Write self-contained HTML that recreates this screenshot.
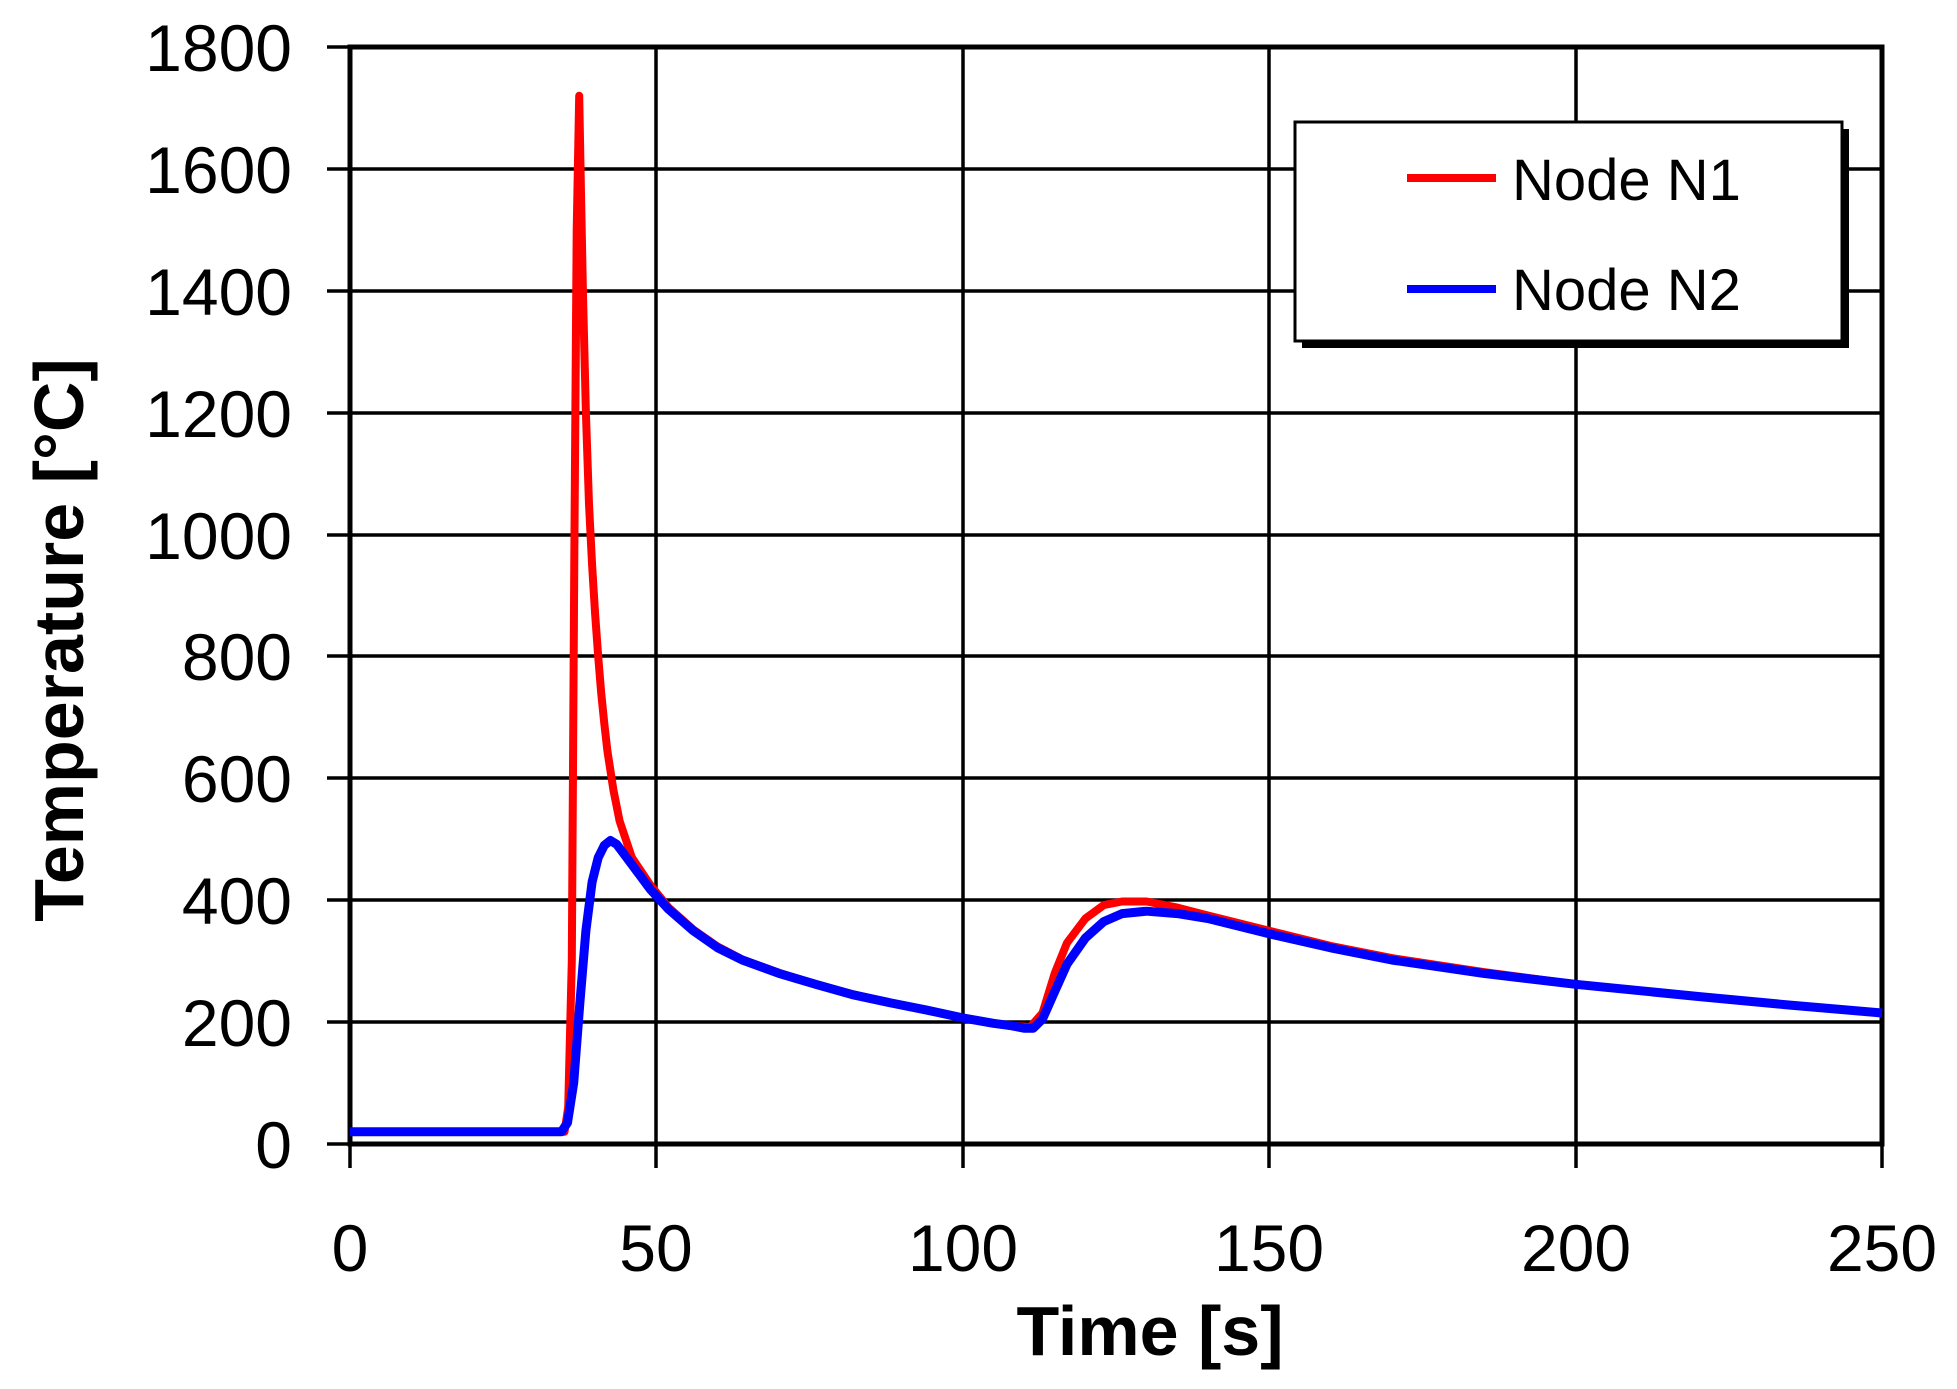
<!DOCTYPE html>
<html><head><meta charset="utf-8"><style>
html,body{margin:0;padding:0;background:#fff;}
svg{display:block;}
text{font-family:"Liberation Sans",Arial,sans-serif;fill:#000;}
</style></head><body>
<svg id="s" width="1957" height="1389" viewBox="0 0 1957 1389" xmlns="http://www.w3.org/2000/svg">
<g stroke="#000" stroke-width="3.5">
<line x1="327" y1="1022" x2="1882" y2="1022"/>
<line x1="327" y1="900" x2="1882" y2="900"/>
<line x1="327" y1="778" x2="1882" y2="778"/>
<line x1="327" y1="656" x2="1882" y2="656"/>
<line x1="327" y1="535" x2="1882" y2="535"/>
<line x1="327" y1="413" x2="1882" y2="413"/>
<line x1="327" y1="291" x2="1882" y2="291"/>
<line x1="327" y1="169" x2="1882" y2="169"/>
<line x1="327" y1="47" x2="350" y2="47"/>
<line x1="327" y1="1144" x2="350" y2="1144"/>
<line x1="656" y1="47" x2="656" y2="1168"/>
<line x1="963" y1="47" x2="963" y2="1168"/>
<line x1="1269" y1="47" x2="1269" y2="1168"/>
<line x1="1576" y1="47" x2="1576" y2="1168"/>
<line x1="350" y1="1144" x2="350" y2="1168"/>
<line x1="1882" y1="1144" x2="1882" y2="1168"/>
</g>
<rect x="350" y="47" width="1532" height="1097" fill="none" stroke="#000" stroke-width="5"/>
<g font-size="66" text-anchor="end">
<text x="292" y="1168">0</text>
<text x="292" y="1046">200</text>
<text x="292" y="924">400</text>
<text x="292" y="802">600</text>
<text x="292" y="680">800</text>
<text x="292" y="559">1000</text>
<text x="292" y="437">1200</text>
<text x="292" y="315">1400</text>
<text x="292" y="193">1600</text>
<text x="292" y="71">1800</text>
</g>
<g font-size="66" text-anchor="middle">
<text x="350" y="1271">0</text>
<text x="656" y="1271">50</text>
<text x="963" y="1271">100</text>
<text x="1269" y="1271">150</text>
<text x="1576" y="1271">200</text>
<text x="1882" y="1271">250</text>
</g>
<text x="1150" y="1355" font-size="70" font-weight="bold" text-anchor="middle">Time [s]</text>
<text transform="translate(83,640) rotate(-90)" font-size="70" font-weight="bold" text-anchor="middle">Temperature [°C]</text>
<g id="series"></g>
<rect x="1302" y="129" width="547" height="219" fill="#000"/>
<rect x="1295" y="122" width="547" height="219" fill="#fff" stroke="#000" stroke-width="3"/>
<line x1="1407" y1="178" x2="1496" y2="178" stroke="#f00" stroke-width="8"/>
<line x1="1407" y1="289" x2="1496" y2="289" stroke="#00f" stroke-width="8"/>
<text x="1512" y="200" font-size="58">Node N1</text>
<text x="1512" y="310" font-size="58">Node N2</text>
</svg>
<script>
function X(t){return 350+t*6.128;}
function Y(v){return 1144-v*0.6094;}
var red=[[0,20],[35,20],[35.6,60],[36.2,300],[36.6,960],[37.0,1500],[37.4,1720],[37.7,1560],[38.0,1400],[38.5,1200],[39,1050],[39.5,950],[40,870],[40.5,800],[41,740],[41.5,690],[42,645],[43,580],[44,530],[46,470],[49,425],[52,388],[56,352],[60,324],[64,303],[70,281],[76,262],[82,246],[88,232],[94,220],[100,207],[105,198],[108,194],[111,192],[113,215],[115,280],[117,330],[120,370],[123,392],[126,398],[130,398],[135,388],[140,375],[150,350],[160,325],[170,305],[185,282],[200,262],[220,242],[235,228],[250,215]];
var blue=[[0,20],[34.5,20],[35.5,35],[36.5,100],[37.5,230],[38.5,350],[39.5,430],[40.5,470],[41.5,490],[42.5,498],[43.5,492],[45,472],[47,445],[49,418],[52,385],[56,350],[60,322],[64,302],[70,280],[76,262],[82,245],[88,232],[94,220],[100,207],[105,198],[108,194],[110,190],[111.5,190],[113,205],[115,250],[117,295],[120,338],[123,365],[126,378],[130,382],[135,378],[140,370],[150,345],[160,322],[170,302],[185,280],[200,262],[220,242],[235,228],[250,215]];
function path(d){return d.map(function(p,i){return (i?'L':'M')+X(p[0]).toFixed(1)+','+Y(p[1]).toFixed(1);}).join('');}
var g=document.getElementById('series');
g.innerHTML='<path d="'+path(red)+'" fill="none" stroke="#f00" stroke-width="8" stroke-linejoin="round"/>'+
'<path d="'+path(blue)+'" fill="none" stroke="#00f" stroke-width="9" stroke-linejoin="round"/>';
</script>
</body></html>
